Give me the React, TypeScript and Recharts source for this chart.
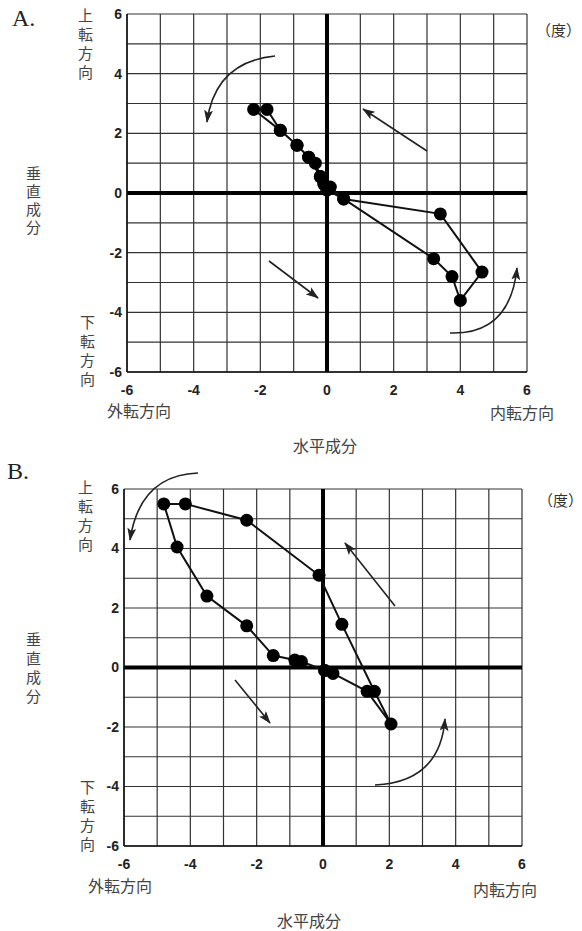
import React from 'react';
import {
  ScatterChart,
  Scatter,
  XAxis,
  YAxis,
  CartesianGrid,
  ReferenceLine
} from 'recharts';

// axis ticks (grid every 1, labels every 2)
const axisTicks = [-6, -5, -4, -3, -2, -1, 0, 1, 2, 3, 4, 5, 6];
const labeledTicks = [-6, -4, -2, 0, 2, 4, 6];

// panel A: horizontal / vertical components (deg), in recording order
const aHorizontal = [0.0, 0.5, 3.2, 3.75, 4.0, 4.65, 3.4, 0.5, 0.1, -0.1, -0.2, -0.35, -0.55, -0.9, -1.4, -1.8, -2.2, -1.4, -0.9, -0.55, -0.2, 0.0];
const aVertical = [0.1, -0.2, -2.2, -2.8, -3.6, -2.65, -0.7, -0.2, 0.2, 0.3, 0.55, 1.0, 1.2, 1.6, 2.1, 2.8, 2.8, 2.1, 1.6, 1.2, 0.55, 0.1];

// panel B
const bHorizontal = [0.05, 0.3, 1.33, 2.05, 1.55, 0.57, -0.12, -2.3, -4.15, -4.8, -4.4, -3.5, -2.3, -1.5, -0.85, -0.65, 0.05];
const bVertical = [-0.1, -0.2, -0.8, -1.9, -0.8, 1.45, 3.1, 4.95, 5.5, 5.5, 4.05, 2.4, 1.4, 0.4, 0.25, 0.2, -0.1];

const toPoints = (xs: number[], ys: number[]) => xs.map((x, i) => ({ x, y: ys[i] }));

const tickFont = { fontFamily: '"Liberation Sans", Arial, sans-serif', fontWeight: 700, fontSize: 14, fill: '#222' };
const jpFont = '"Noto Sans CJK JP", sans-serif';

const Dot = (props: any) => <circle cx={props.cx} cy={props.cy} r={6.5} fill="#000" />;

function Panel({ data, top, margin }: { data: { x: number; y: number }[]; top: number; margin: any }) {
  return (
    <div style={{ position: 'absolute', left: 0, top }}>
      <ScatterChart width={582} height={420} margin={margin}>
        <CartesianGrid stroke="#333" strokeWidth={1.2} fill="none" />
        <XAxis
          type="number"
          dataKey="x"
          domain={[-6, 6]}
          ticks={axisTicks}
          tickFormatter={(v) => (labeledTicks.includes(v) ? String(v) : '')}
          tickLine={false}
          tickSize={6}
          tickMargin={7}
          height={30}
          axisLine={{ stroke: '#111', strokeWidth: 1.5 }}
          tick={tickFont}
          interval={0}
        />
        <YAxis
          type="number"
          dataKey="y"
          domain={[-6, 6]}
          ticks={axisTicks}
          tickFormatter={(v) => (labeledTicks.includes(v) ? String(v) : '')}
          tickLine={false}
          tickSize={3}
          tickMargin={2}
          width={40}
          axisLine={{ stroke: '#111', strokeWidth: 1.5 }}
          tick={tickFont}
          interval={0}
        />
        <ReferenceLine x={0} stroke="#000" strokeWidth={4} />
        <ReferenceLine y={0} stroke="#000" strokeWidth={4} />
        <Scatter
          data={data}
          line={{ stroke: '#111', strokeWidth: 2 }}
          lineType="joint"
          shape={Dot}
          isAnimationActive={false}
        />
      </ScatterChart>
    </div>
  );
}

function Label({ text, left, top, size = 15, color = '#444', vertical = false, pitch = 19, font = jpFont }: any) {
  return (
    <div
      style={{
        position: 'absolute',
        left,
        top,
        fontFamily: font,
        fontSize: size,
        color,
        lineHeight: vertical ? `${pitch}px` : 1,
        width: vertical ? size : undefined,
        whiteSpace: vertical ? 'normal' : 'nowrap',
        wordBreak: vertical ? 'break-all' : undefined,
        textAlign: 'center'
      }}
    >
      {text}
    </div>
  );
}

function Arrows() {
  const s = { stroke: '#222', strokeWidth: 1.6, fill: 'none', markerEnd: 'url(#ah)' };
  return (
    <svg width={582} height={931} style={{ position: 'absolute', left: 0, top: 0, pointerEvents: 'none' }}>
      <defs>
        <marker id="ah" markerWidth={13} markerHeight={9} refX={12} refY={4.5} orient="auto" markerUnits="userSpaceOnUse">
          <path d="M0,0 L13,4.5 L0,9 L3,4.5 z" fill="#222" />
        </marker>
      </defs>
      {/* panel A */}
      <path d="M275,56 Q215,62 207,122" {...s} />
      <path d="M427,151 L363,109" {...s} />
      <path d="M269,261 L318,298" {...s} />
      <path d="M450,333 Q510,335 517,268" {...s} />
      {/* panel B */}
      <path d="M198,473 Q140,475 130,540" {...s} />
      <path d="M395,606 L345,543" {...s} />
      <path d="M235,680 L270,723" {...s} />
      <path d="M375,785 Q440,782 445,719" {...s} />
    </svg>
  );
}

export default function App() {
  return (
    <div style={{ position: 'absolute', left: 0, top: 0, width: 582, height: 931, background: '#fff', overflow: 'hidden' }}>
      <Panel data={toPoints(aHorizontal, aVertical)} top={0} margin={{ top: 14, right: 55, left: 87, bottom: 18 }} />
      <Panel data={toPoints(bHorizontal, bVertical)} top={475} margin={{ top: 14, right: 60, left: 84, bottom: 19 }} />
      <Arrows />

      {/* panel A labels */}
      <Label text="A." left={12} top={6} size={24} color="#222" font='"Liberation Serif", serif' />
      <Label text="上転方向" left={78} top={5} vertical pitch={19} />
      <Label text="垂直成分" left={26} top={164} vertical pitch={18} />
      <Label text="下転方向" left={80} top={312} vertical pitch={19} />
      <Label text="外転方向" left={107} top={402} size={16} />
      <Label text="内転方向" left={490} top={404} size={16} />
      <Label text="水平成分" left={293} top={437} size={16} />
      <Label text="（度）" left={536} top={22} size={15} color="#333" />

      {/* panel B labels */}
      <Label text="B." left={7} top={459} size={24} color="#222" font='"Liberation Serif", serif' />
      <Label text="上転方向" left={78} top={477} vertical pitch={19} />
      <Label text="垂直成分" left={26} top={629} vertical pitch={19} />
      <Label text="下転方向" left={80} top={777} vertical pitch={19} />
      <Label text="外転方向" left={88} top={877} size={16} />
      <Label text="内転方向" left={473} top={881} size={16} />
      <Label text="水平成分" left={277} top={912} size={16} />
      <Label text="（度）" left={538} top={492} size={15} color="#333" />
    </div>
  );
}
